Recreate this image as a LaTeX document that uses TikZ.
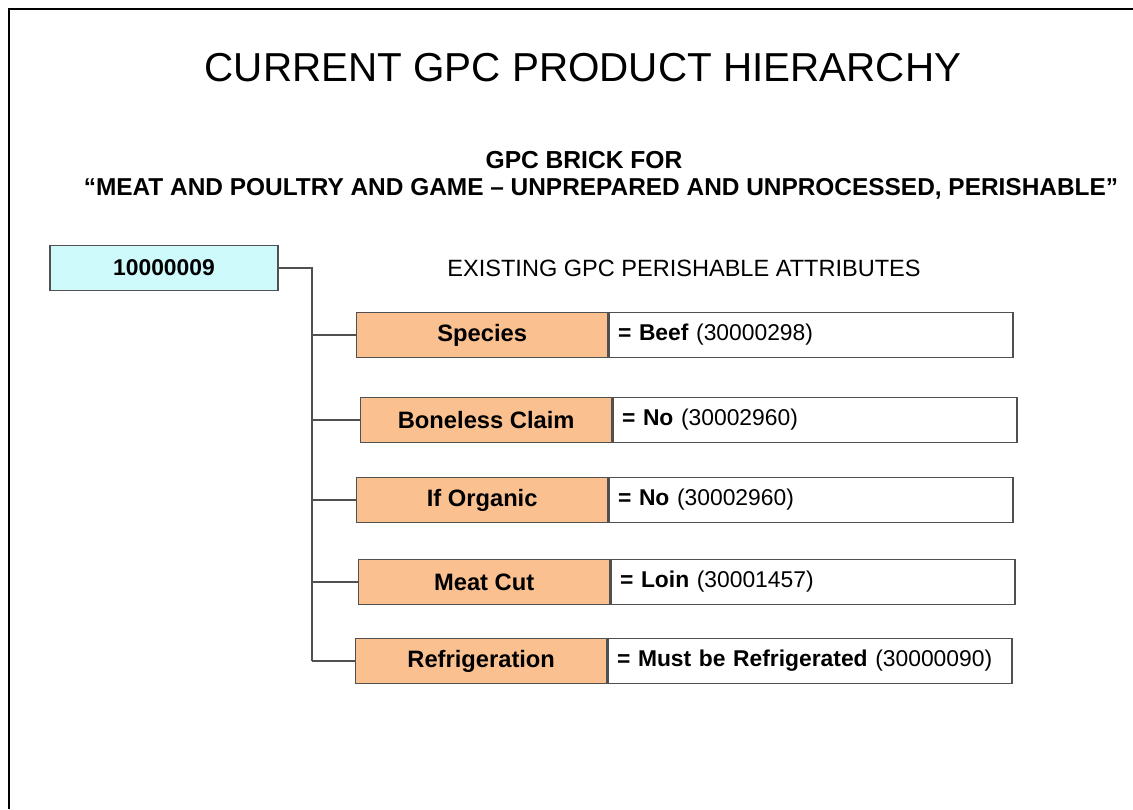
\documentclass[tikz,border=0pt]{standalone}
\usepackage{fontspec}
\setmainfont{Liberation Sans}
\usetikzlibrary{positioning}
\definecolor{brickcyan}{RGB}{206,250,252}
\definecolor{attrorange}{RGB}{250,192,144}
\definecolor{linegray}{RGB}{80,80,80}
\tikzset{
  attrbox/.style={draw=linegray, line width=0.8pt, fill=attrorange, minimum width=5.02cm,
    minimum height=0.9cm, inner sep=0pt, font=\fontsize{13.5}{16}\selectfont\bfseries},
  valbox/.style={draw=linegray, line width=0.8pt, fill=white, minimum width=8.08cm,
    minimum height=0.9cm, inner sep=0pt, text width=7.72cm, align=left,
    font=\fontsize{13}{16}\selectfont},
  link/.style={draw=linegray, line width=0.6pt}
}
\begin{document}
\begin{tikzpicture}[x=0.02cm,y=-0.02cm]
\useasboundingbox (0,0) rectangle (1133,809);
% frame, only top and left
\draw[line width=1.7pt] (1133,9) -- (9,9) -- (9,809);
% headings
\node (title) at (583,68) {\fontsize{23}{26}\selectfont CURRENT GPC PRODUCT HIERARCHY};
\node (brickfor) at (584,160) {\fontsize{14}{16}\selectfont\bfseries GPC BRICK FOR};
\node (brickname) at (601,189) {\fontsize{13.9}{16}\selectfont\bfseries ``MEAT AND POULTRY AND GAME -- UNPREPARED AND UNPROCESSED, PERISHABLE''};
\node (existing) at (684,268) {\fontsize{13.4}{16}\selectfont EXISTING GPC PERISHABLE ATTRIBUTES};
% brick code
\node [draw=linegray, line width=0.8pt, fill=brickcyan, minimum width=4.56cm, minimum height=0.9cm,
  font=\fontsize{13}{16}\selectfont\bfseries] (brick) at (164,268) {10000009};
\coordinate (trunk) at (312,268);
% attributes
\foreach \Name/\X/\Y/\Attr/\Val/\Code in {
    species/356/335/Species/Beef/30000298,
    boneless/360/420/Boneless Claim/No/30002960,
    organic/356/500/If Organic/No/30002960,
    meatcut/358/582/Meat Cut/Loin/30001457,
    refrig/355/661/Refrigeration/Must be Refrigerated/30000090}
{
  \node [attrbox, anchor=west] (\Name) at (\X,\Y) {\Attr};
  \node [valbox, right=0pt of \Name] (\Name val) {\textbf{= \Val} (\Code)};
  \draw [link] (trunk |- \Name.west) -- (\Name.west);
}
\draw [link] (brick.east) -- (trunk) -- (trunk |- refrig.west);
\end{tikzpicture}
\end{document}
